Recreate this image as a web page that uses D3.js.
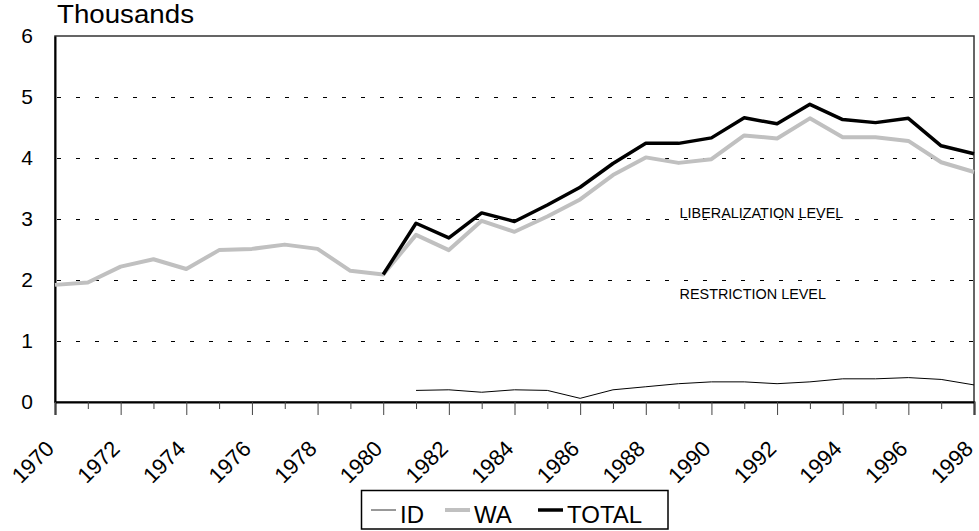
<!DOCTYPE html>
<html>
<head>
<meta charset="utf-8">
<script src="https://cdn.jsdelivr.net/npm/d3@7/dist/d3.min.js"></script>
<style>
  body { margin: 0; background: #fff; }
  text { font-family: "Liberation Sans", Arial, sans-serif; fill: #000; }
</style>
</head>
<body>
<div id="chart"></div>
<script>
var years = [1970, 1971, 1972, 1973, 1974, 1975, 1976, 1977, 1978, 1979,
    1980, 1981, 1982, 1983, 1984, 1985, 1986, 1987, 1988, 1989,
    1990, 1991, 1992, 1993, 1994, 1995, 1996, 1997, 1998];

// thousands, null = no value that year
var idValues = [null, null, null, null, null, null, null, null, null, null,
    null, 0.19, 0.20, 0.16, 0.20, 0.19, 0.06, 0.20, 0.25, 0.30,
    0.33, 0.33, 0.30, 0.33, 0.38, 0.38, 0.40, 0.37, 0.28];
var waValues = [1.92, 1.96, 2.22, 2.34, 2.18, 2.49, 2.51, 2.58, 2.51, 2.15,
    2.09, 2.74, 2.49, 2.97, 2.79, 3.04, 3.32, 3.72, 4.01, 3.92,
    3.98, 4.37, 4.32, 4.65, 4.34, 4.34, 4.28, 3.93, 3.77];
var totalValues = [null, null, null, null, null, null, null, null, null, null,
    2.09, 2.93, 2.69, 3.10, 2.96, 3.23, 3.52, 3.91, 4.24, 4.24,
    4.33, 4.66, 4.56, 4.88, 4.63, 4.58, 4.65, 4.20, 4.07];

var yTicks = [0, 1, 2, 3, 4, 5, 6];
var gridTicks = [1, 2, 3, 4, 5];
var xLabelYears = [1970, 1972, 1974, 1976, 1978, 1980, 1982, 1984,
    1986, 1988, 1990, 1992, 1994, 1996, 1998];

var seriesNames = ['ID', 'WA', 'TOTAL'];
var seriesColors = ['#000000', '#c0c0c0', '#000000'];
var seriesWidths = [1, 4, 3.5];

var levelLabels = ['LIBERALIZATION LEVEL', 'RESTRICTION LEVEL'];
var levelValues = [3, 2];

var width = 979, height = 531;
var plotLeft = 55, plotRight = 974, plotTop = 36, plotBottom = 402;

var svg = d3.select('#chart').append('svg')
    .attr('width', width)
    .attr('height', height);

var x = d3.scaleLinear().domain([1970, 1998]).range([plotLeft, plotRight]);
var y = d3.scaleLinear().domain([0, 6]).range([plotBottom, plotTop]);

// frame
svg.append('rect')
    .attr('x', plotLeft).attr('y', plotTop)
    .attr('width', plotRight - plotLeft).attr('height', plotBottom - plotTop)
    .attr('fill', 'none')
    .attr('stroke', '#333')
    .attr('stroke-width', 1.5);

// dashed grid
var grid = svg.append('g')
    .attr('transform', 'translate(' + plotLeft + ',0)')
    .call(d3.axisLeft(y).tickValues(gridTicks).tickFormat('').tickSize(-(plotRight - plotLeft - 2)));
grid.select('.domain').remove();
grid.selectAll('line')
    .attr('transform', 'translate(2,0)')
    .attr('stroke', '#000')
    .attr('stroke-dasharray', '4,15');

// y labels
var yAxis = svg.append('g')
    .attr('transform', 'translate(' + plotLeft + ',0)')
    .call(d3.axisLeft(y).tickValues(yTicks).tickFormat(d3.format('d')).tickSize(0).tickPadding(22));
yAxis.select('.domain').attr('stroke', '#000').attr('stroke-width', 2);
yAxis.selectAll('text').attr('font-size', 21).attr('font-family', null);

// x axis
var xAxis = svg.append('g')
    .attr('transform', 'translate(0,' + plotBottom + ')')
    .call(d3.axisBottom(x).tickValues(years).tickSize(13).tickFormat(function (d) {
        return xLabelYears.indexOf(d) >= 0 ? d : '';
    }));
xAxis.select('.domain').attr('stroke', '#000').attr('stroke-width', 2);
xAxis.selectAll('.tick line')
    .attr('stroke', '#444')
    .attr('y2', function (d) { return d % 2 === 0 ? 13 : 7; });
xAxis.selectAll('.tick text')
    .attr('font-size', 22)
    .attr('font-family', null)
    .attr('text-anchor', 'end')
    .attr('x', 0).attr('y', 0).attr('dy', 0)
    .attr('transform', 'translate(0,48) rotate(-45)');

// series
var allValues = [idValues, waValues, totalValues];
var line = d3.line()
    .defined(function (d) { return d.v !== null; })
    .x(function (d) { return x(d.year); })
    .y(function (d) { return y(d.v); });

allValues.forEach(function (vals, i) {
    var pts = years.map(function (yr, j) { return { year: yr, v: vals[j] }; });
    svg.append('path')
        .datum(pts)
        .attr('d', line)
        .attr('fill', 'none')
        .attr('stroke', seriesColors[i])
        .attr('stroke-width', seriesWidths[i])
        .attr('stroke-linejoin', 'round');
});

// level annotations
svg.selectAll('.level')
    .data(levelLabels)
    .enter().append('text')
    .attr('class', 'level')
    .attr('x', x(1989) + 1)
    .attr('y', function (d, i) { return i === 0 ? y(levelValues[i]) - 1 : y(levelValues[i]) + 19; })
    .attr('font-size', 14.4)
    .text(function (d) { return d; });

// unit label
svg.append('text')
    .attr('x', 57).attr('y', 23)
    .attr('font-size', 25)
    .attr('textLength', 137)
    .attr('lengthAdjust', 'spacingAndGlyphs')
    .text('Thousands');

// legend
var legend = svg.append('g');
legend.append('rect')
    .attr('x', 361.5).attr('y', 490.5)
    .attr('width', 306.5).attr('height', 38.5)
    .attr('fill', '#fff')
    .attr('stroke', '#000')
    .attr('stroke-width', 1.5);

var legendX = [371, 445, 538];
seriesNames.forEach(function (name, i) {
    legend.append('line')
        .attr('x1', legendX[i]).attr('x2', legendX[i] + 25)
        .attr('y1', 510).attr('y2', 510)
        .attr('stroke', i === 0 ? '#333' : seriesColors[i])
        .attr('stroke-width', seriesWidths[i]);
    legend.append('text')
        .attr('x', legendX[i] + 29)
        .attr('y', 523)
        .attr('font-size', 24)
        .text(name);
});
</script>
</body>
</html>
